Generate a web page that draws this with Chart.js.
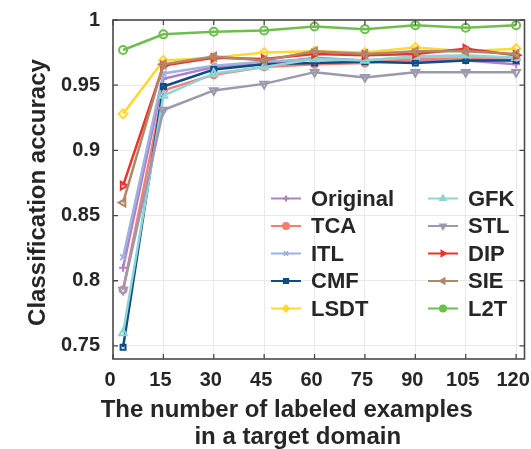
<!DOCTYPE html>
<html><head><meta charset="utf-8">
<script src="https://cdn.jsdelivr.net/npm/chart.js@4/dist/chart.umd.min.js"></script>
<style>html,body{margin:0;padding:0;background:#fff}#wrap{width:531px;height:449px}</style>
</head><body><div id="wrap"><canvas id="c" width="531" height="449"></canvas></div>
<script>
const xValues = [3, 15, 30, 45, 60, 75, 90, 105, 120];
const seriesNames = ['Original', 'TCA', 'ITL', 'CMF', 'LSDT', 'GFK', 'STL', 'DIP', 'SIE', 'L2T'];
const originalAcc = [0.810, 0.955, 0.964, 0.966, 0.971, 0.969, 0.969, 0.969, 0.966];
const tcaAcc      = [0.793, 0.946, 0.958, 0.964, 0.966, 0.967, 0.970, 0.970, 0.970];
const itlAcc      = [0.818, 0.959, 0.965, 0.968, 0.970, 0.969, 0.972, 0.972, 0.971];
const cmfAcc      = [0.749, 0.949, 0.962, 0.966, 0.967, 0.968, 0.967, 0.969, 0.969];
const lsdtAcc     = [0.928, 0.969, 0.971, 0.975, 0.976, 0.975, 0.979, 0.976, 0.978];
const gfkAcc      = [0.760, 0.942, 0.959, 0.964, 0.970, 0.969, 0.972, 0.973, 0.971];
const stlAcc      = [0.793, 0.931, 0.946, 0.951, 0.960, 0.956, 0.960, 0.960, 0.960];
const dipAcc      = [0.873, 0.965, 0.971, 0.970, 0.974, 0.973, 0.974, 0.978, 0.973];
const sieAcc      = [0.860, 0.966, 0.972, 0.969, 0.976, 0.974, 0.976, 0.976, 0.974];
const l2tAcc      = [0.977, 0.989, 0.991, 0.992, 0.995, 0.993, 0.996, 0.994, 0.996];
const xTicks = [0, 15, 30, 45, 60, 75, 90, 105, 120];
const yTicks = [0.75, 0.8, 0.85, 0.9, 0.95, 1];
const xTitle = ['The number of labeled examples', 'in a target domain'];
const yTitle = 'Classification accuracy';

const allValues = [originalAcc, tcaAcc, itlAcc, cmfAcc, lsdtAcc, gfkAcc, stlAcc, dipAcc, sieAcc, l2tAcc];
const colors = ['#b07fc8', '#f77d70', '#9db2de', '#0d4d86', '#ffd832', '#8fd4d4', '#9c99ae', '#e8352c', '#b28668', '#6cbf4e'];
const pStyles = ['cross', 'circle', 'crossRot', 'rect', 'rectRot', 'triangle', 'triangle', 'triangle', 'triangle', 'circle'];
const pRot = [0, 0, 0, 0, 0, 0, 180, 90, 270, 0];
const pRad = [4, 3.5, 4, 3.5, 4.5, 4.5, 4.5, 4.5, 4.5, 4];

const FONT = "'Liberation Sans', Arial, sans-serif";
const TXT = '#262626';

const datasets = seriesNames.map((n, i) => ({
  label: n,
  data: xValues.map((x, j) => ({x: x, y: allValues[i][j]})),
  borderColor: colors[i],
  backgroundColor: 'rgba(255,255,255,0)',
  pointBorderColor: colors[i],
  pointBackgroundColor: 'rgba(255,255,255,0)',
  pointStyle: pStyles[i],
  rotation: pRot[i],
  pointRadius: pRad[i],
  pointBorderWidth: 2,
  borderWidth: 2.5,
  tension: 0,
  order: seriesNames.length - i
}));

const framePlugin = {
  id: 'frame',
  afterDatasetsDraw(chart) {
    const ctx = chart.ctx, a = chart.chartArea;
    const xs = chart.scales.x, ys = chart.scales.y;
    ctx.save();
    ctx.strokeStyle = '#4a4a4a';
    ctx.lineWidth = 1.6;
    ctx.strokeRect(a.left, a.top, a.right - a.left, a.bottom - a.top);
    ctx.lineWidth = 1.3;
    ctx.beginPath();
    xTicks.forEach(v => {
      const px = xs.getPixelForValue(v);
      ctx.moveTo(px, a.bottom); ctx.lineTo(px, a.bottom - 5);
      ctx.moveTo(px, a.top); ctx.lineTo(px, a.top + 5);
    });
    yTicks.forEach(v => {
      const py = ys.getPixelForValue(v);
      ctx.moveTo(a.left, py); ctx.lineTo(a.left + 5, py);
      ctx.moveTo(a.right, py); ctx.lineTo(a.right - 5, py);
    });
    ctx.stroke();
    ctx.restore();
  }
};

const legendPlugin = {
  id: 'insideLegend',
  afterDraw(chart) {
    const ctx = chart.ctx, a = chart.chartArea;
    chart.data.datasets.forEach((ds, i) => {
      const col = Math.floor(i / 5), row = i % 5;
      const x0 = a.left + 158 + col * 157;
      const y = a.top + 178.5 + row * 27.5;
      ctx.save();
      ctx.strokeStyle = ds.borderColor;
      ctx.lineWidth = 2;
      ctx.beginPath(); ctx.moveTo(x0, y); ctx.lineTo(x0 + 30, y); ctx.stroke();
      ctx.fillStyle = ds.borderColor;
      if (Chart.helpers && Chart.helpers.drawPoint) {
        Chart.helpers.drawPoint(ctx, {pointStyle: ds.pointStyle, rotation: ds.rotation, radius: 3, borderWidth: 1.5}, x0 + 15, y);
      }
      ctx.fillStyle = TXT;
      ctx.font = 'bold 22px ' + FONT;
      ctx.textAlign = 'left';
      ctx.textBaseline = 'middle';
      ctx.fillText(ds.label, x0 + 40, y + 1);
      ctx.restore();
    });
  }
};

const titlePlugin = {
  id: 'axisTitles',
  afterDraw(chart) {
    const ctx = chart.ctx, a = chart.chartArea;
    const cx = (a.left + a.right) / 2;
    ctx.save();
    ctx.fillStyle = TXT;
    ctx.font = 'bold 24px ' + FONT;
    ctx.textAlign = 'center';
    ctx.textBaseline = 'middle';
    ctx.fillText(xTitle[0], cx - 32, a.bottom + 51);
    ctx.fillText(xTitle[1], cx - 21, a.bottom + 78);
    ctx.translate(38, (a.top + a.bottom) / 2 + 3);
    ctx.rotate(-Math.PI / 2);
    ctx.fillText(yTitle, 0, 0);
    ctx.restore();
  }
};

new Chart(document.getElementById('c'), {
  type: 'line',
  data: {datasets: datasets},
  options: {
    responsive: false,
    animation: false,
    layout: {padding: {top: 20, right: 5, left: 0, bottom: 0}},
    plugins: {legend: {display: false}, tooltip: {enabled: false}},
    scales: {
      x: {
        type: 'linear', min: 0, max: 122.5,
        afterBuildTicks: s => { s.ticks = xTicks.map(v => ({value: v})); },
        afterFit: s => { s.height = 90; s.paddingLeft = 0; s.paddingRight = 0; },
        grid: {color: '#e9e9e9', lineWidth: 1, drawTicks: false},
        border: {display: false},
        ticks: {color: TXT, font: {family: FONT, size: 20, weight: 'bold'}, padding: 9, labelOffset: -3, maxRotation: 0, autoSkip: false,
          callback: v => String(v)}
      },
      y: {
        type: 'linear', min: 0.74, max: 1,
        afterBuildTicks: s => { s.ticks = yTicks.map(v => ({value: v})); },
        afterFit: s => { s.width = 113; s.paddingTop = 0; s.paddingBottom = 0; },
        grid: {color: '#e9e9e9', lineWidth: 1, drawTicks: false},
        border: {display: false},
        ticks: {color: TXT, font: {family: FONT, size: 20, weight: 'bold'}, padding: 13, autoSkip: false,
          callback: v => String(+v.toFixed(2))}
      }
    }
  },
  plugins: [framePlugin, legendPlugin, titlePlugin]
});
</script></body></html>
